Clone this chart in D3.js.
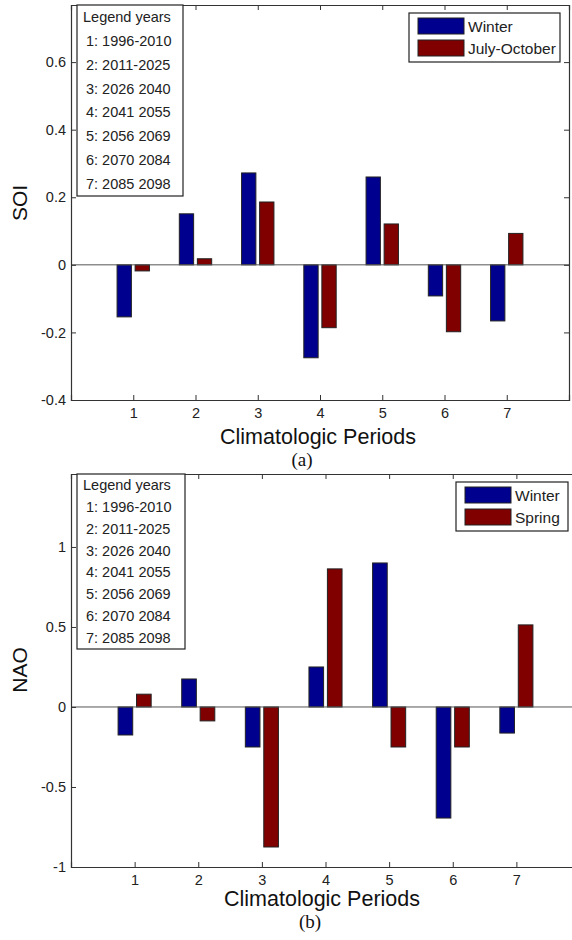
<!DOCTYPE html>
<html>
<head>
<meta charset="utf-8">
<script src="https://cdn.jsdelivr.net/npm/d3@7"></script>
<style>
  body { margin: 0; background: #fff; }
  svg { display: block; }
</style>
</head>
<body>
<svg width="572" height="940"></svg>
<script>
const periods = [1, 2, 3, 4, 5, 6, 7];
const yearLabels = ['1: 1996-2010', '2: 2011-2025', '3: 2026 2040', '4: 2041 2055',
  '5: 2056 2069', '6: 2070 2084', '7: 2085 2098'];

const soiWinter = [-0.154, 0.151, 0.272, -0.275, 0.26, -0.092, -0.166];
const soiJulOct = [-0.018, 0.018, 0.186, -0.186, 0.121, -0.198, 0.093];
const soiTicks = [-0.4, -0.2, 0, 0.2, 0.4, 0.6];

const naoWinter = [-0.175, 0.175, -0.25, 0.25, 0.9, -0.694, -0.163];
const naoSpring = [0.08, -0.087, -0.875, 0.863, -0.25, -0.25, 0.513];
const naoTicks = [-1, -0.5, 0, 0.5, 1];

const blue = '#00008f';
const red = '#800000';
const sans = '"Liberation Sans", Arial, sans-serif';
const serif = '"Liberation Serif", "DejaVu Serif", serif';

const svg = d3.select('svg').style('font-family', sans);

function drawPanel(cfg) {
  const g = svg.append('g');
  const x = d3.scaleLinear().domain([0, 8]).range([cfg.left, cfg.right]);
  const y = d3.scaleLinear().domain(cfg.yDomain).range([cfg.bottom, cfg.top]);

  // bars
  const series = [{vals: cfg.a, color: blue, off: -0.145}, {vals: cfg.b, color: red, off: 0.145}];
  const bw = 0.23;
  series.forEach(s => {
    g.selectAll(null).data(periods).enter().append('rect')
      .attr('x', p => x(p + s.off - bw / 2))
      .attr('width', x(bw) - x(0))
      .attr('y', (p, i) => y(Math.max(0, s.vals[i])))
      .attr('height', (p, i) => Math.abs(y(s.vals[i]) - y(0)))
      .attr('fill', s.color)
      .attr('stroke', '#222')
      .attr('stroke-width', 1);
  });

  // baseline
  g.append('line')
    .attr('x1', cfg.left).attr('x2', cfg.right)
    .attr('y1', y(0)).attr('y2', y(0))
    .attr('stroke', '#555').attr('stroke-width', 1);

  const fmt = d => d === 0 ? '0' : String(d);

  const axL = g.append('g').attr('transform', `translate(${cfg.left},0)`)
    .call(d3.axisLeft(y).tickValues(cfg.yTicks).tickSize(-5).tickPadding(5).tickFormat(fmt));
  const axR = g.append('g').attr('transform', `translate(${cfg.right},0)`)
    .call(d3.axisRight(y).tickValues(cfg.yTicks).tickSize(-5).tickFormat(''));
  const axB = g.append('g').attr('transform', `translate(0,${cfg.bottom})`)
    .call(d3.axisBottom(x).tickValues(periods).tickSize(-5).tickPadding(8).tickFormat(d3.format('d')));
  const axT = g.append('g').attr('transform', `translate(0,${cfg.top})`)
    .call(d3.axisTop(x).tickValues(periods).tickSize(-5).tickFormat(''));
  [axL, axR, axB, axT].forEach(a => {
    a.select('.domain').attr('stroke', '#333').attr('stroke-width', 1.2);
    a.selectAll('.tick line').attr('stroke', '#333');
    a.selectAll('.tick text').attr('fill', '#222')
      .style('font-size', '14.5px').style('font-family', sans);
  });

  // years legend box
  const yb = g.append('g').style('font-size', '14.5px');
  yb.append('rect')
    .attr('x', 77).attr('y', cfg.top)
    .attr('width', cfg.yearsW).attr('height', cfg.yearsH)
    .attr('fill', '#fff').attr('stroke', '#222').attr('stroke-width', 1.2);
  const rowH = cfg.yearsH / 8;
  yb.append('text').attr('x', 83).attr('y', cfg.top + rowH * 0.5 + 5)
    .attr('fill', '#222').text('Legend years');
  yb.selectAll(null).data(yearLabels).enter().append('text')
    .attr('x', 86).attr('y', (d, i) => cfg.top + rowH * (i + 1.5) + 5)
    .attr('fill', '#222').text(d => d);

  // series legend
  const lg = g.append('g').style('font-size', '15.5px');
  lg.append('rect')
    .attr('x', cfg.legX).attr('y', cfg.legY)
    .attr('width', cfg.legW).attr('height', 49)
    .attr('fill', '#fff').attr('stroke', '#222').attr('stroke-width', 1.2);
  [[cfg.names[0], blue], [cfg.names[1], red]].forEach((d, i) => {
    lg.append('rect')
      .attr('x', cfg.legX + 9).attr('y', cfg.legY + 5 + i * 22)
      .attr('width', 46).attr('height', 16)
      .attr('fill', d[1]).attr('stroke', '#222');
    lg.append('text')
      .attr('x', cfg.legX + 59).attr('y', cfg.legY + 19 + i * 22)
      .attr('fill', '#222').text(d[0]);
  });

  // labels
  g.append('text')
    .attr('transform', `translate(27,${cfg.ylabY}) rotate(-90)`)
    .attr('text-anchor', 'middle').style('font-size', '21px').attr('fill', '#111')
    .text(cfg.ylabel);
  g.append('text')
    .attr('x', cfg.xlabX).attr('y', cfg.bottom + cfg.xlabDy)
    .attr('text-anchor', 'middle').style('font-size', '21.5px').attr('fill', '#111')
    .text('Climatologic Periods');
  g.append('text')
    .attr('x', cfg.capX).attr('y', cfg.bottom + cfg.capDy)
    .attr('text-anchor', 'middle').style('font-size', '19px').attr('fill', '#111')
    .style('font-family', serif)
    .text(cfg.caption);
}

drawPanel({
  top: 5, bottom: 400, left: 71, right: 569,
  yDomain: [-0.4, 0.769], yTicks: soiTicks,
  a: soiWinter, b: soiJulOct,
  names: ['Winter', 'July-October'],
  yearsW: 106, yearsH: 191,
  legX: 409, legY: 13, legW: 151,
  ylabel: 'SOI', ylabY: 203,
  xlabX: 318, xlabDy: 44,
  caption: '(a)', capX: 302, capDy: 66
});

drawPanel({
  top: 474, bottom: 867, left: 71, right: 580,
  yDomain: [-1, 1.456], yTicks: naoTicks,
  a: naoWinter, b: naoSpring,
  names: ['Winter', 'Spring'],
  yearsW: 108, yearsH: 175,
  legX: 456, legY: 482, legW: 112,
  ylabel: 'NAO', ylabY: 670,
  xlabX: 322, xlabDy: 39,
  caption: '(b)', capX: 310, capDy: 61
});
</script>
</body>
</html>
